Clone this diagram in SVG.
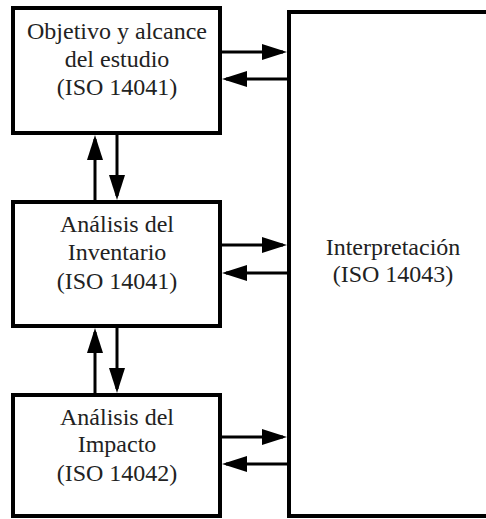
<svg xmlns="http://www.w3.org/2000/svg" width="486" height="519" viewBox="0 0 486 519">
<style>
.box{fill:#fff;stroke:#000;stroke-width:4}
text{font-family:'Liberation Serif','DejaVu Serif','Times New Roman',serif;font-size:24px;fill:#222;text-anchor:middle}
.c{stroke:#000;stroke-width:3;fill:none;marker-end:url(#ah)}
</style>
<defs>
<marker id="ah" markerUnits="userSpaceOnUse" markerWidth="26" markerHeight="16" refX="21" refY="8" orient="auto">
<path d="M0,0 L25,8 L0,16 z" fill="#000"/>
</marker>
</defs>
<rect width="486" height="519" fill="#fff"/>
<g id="objetivo" font-family="Liberation Serif, serif">
<rect class="box" x="13" y="8" width="207" height="125"/>
<text x="117" y="39">Objetivo y alcance</text>
<text x="117" y="67">del estudio</text>
<text x="117" y="95">(ISO 14041)</text>
</g>
<g id="inventario">
<rect class="box" x="13" y="202" width="207" height="124"/>
<text x="117" y="232">Análisis del</text>
<text x="117" y="260">Inventario</text>
<text x="117" y="289">(ISO 14041)</text>
</g>
<g id="impacto">
<rect class="box" x="13" y="395" width="207" height="121"/>
<text x="117" y="425">Análisis del</text>
<text x="117" y="452">Impacto</text>
<text x="117" y="481">(ISO 14042)</text>
</g>
<g id="interpretacion">
<rect class="box" x="289" y="12" width="210" height="504"/>
<text x="393" y="255">Interpretación</text>
<text x="393" y="282">(ISO 14043)</text>
</g>
<g id="connectors">
<line class="c" x1="222" y1="52" x2="283" y2="52"/>
<line class="c" x1="287" y1="79" x2="226" y2="79"/>
<line class="c" x1="222" y1="245" x2="283" y2="245"/>
<line class="c" x1="287" y1="273" x2="226" y2="273"/>
<line class="c" x1="222" y1="437" x2="283" y2="437"/>
<line class="c" x1="287" y1="464" x2="226" y2="464"/>
<line class="c" x1="95" y1="200" x2="95" y2="139"/>
<line class="c" x1="117" y1="135" x2="117" y2="196"/>
<line class="c" x1="95" y1="393" x2="95" y2="332"/>
<line class="c" x1="117" y1="328" x2="117" y2="389"/>
</g>
</svg>
